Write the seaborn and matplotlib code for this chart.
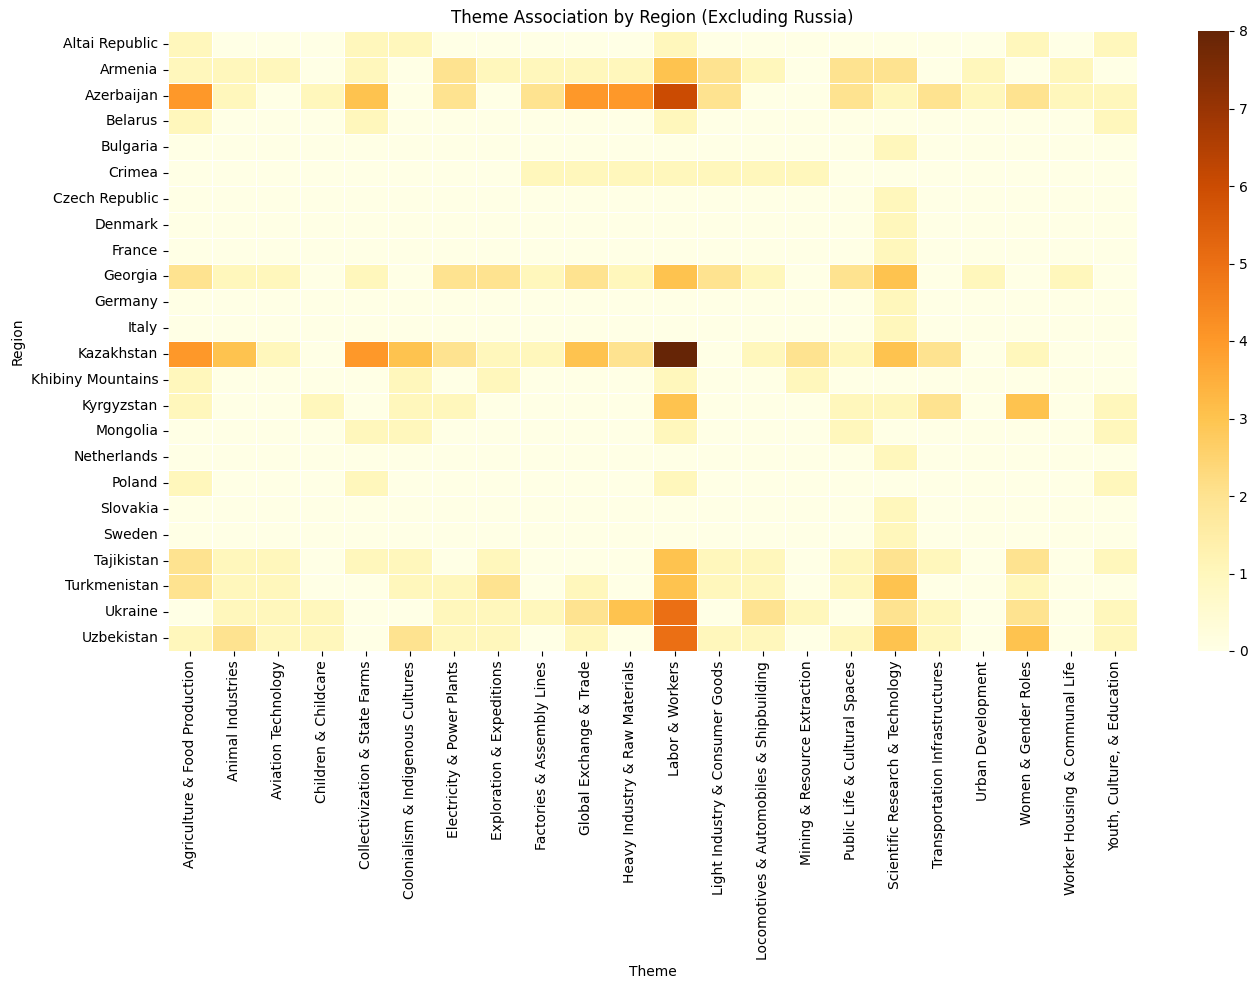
import numpy as np
import pandas as pd
import seaborn as sns
import matplotlib.pyplot as plt

regions = ['Altai Republic', 'Armenia', 'Azerbaijan', 'Belarus', 'Bulgaria', 'Crimea',
           'Czech Republic', 'Denmark', 'France', 'Georgia', 'Germany', 'Italy',
           'Kazakhstan', 'Khibiny Mountains', 'Kyrgyzstan', 'Mongolia', 'Netherlands',
           'Poland', 'Slovakia', 'Sweden', 'Tajikistan', 'Turkmenistan', 'Ukraine',
           'Uzbekistan']

themes = ['Agriculture & Food Production', 'Animal Industries', 'Aviation Technology',
          'Children & Childcare', 'Collectivization & State Farms',
          'Colonialism & Indigenous Cultures', 'Electricity & Power Plants',
          'Exploration & Expeditions', 'Factories & Assembly Lines',
          'Global Exchange & Trade', 'Heavy Industry & Raw Materials', 'Labor & Workers',
          'Light Industry & Consumer Goods', 'Locomotives & Automobiles & Shipbuilding',
          'Mining & Resource Extraction', 'Public Life & Cultural Spaces',
          'Scientific Research & Technology', 'Transportation Infrastructures',
          'Urban Development', 'Women & Gender Roles', 'Worker Housing & Communal Life',
          'Youth, Culture, & Education']

# one row per region, one value per theme
counts = [
    [1, 0, 0, 0, 1, 1, 0, 0, 0, 0, 0, 1, 0, 0, 0, 0, 0, 0, 0, 1, 0, 1],  # Altai Republic
    [1, 1, 1, 0, 1, 0, 2, 1, 1, 1, 1, 3, 2, 1, 0, 2, 2, 0, 1, 0, 1, 0],  # Armenia
    [4, 1, 0, 1, 3, 0, 2, 0, 2, 4, 4, 6, 2, 0, 0, 2, 1, 2, 1, 2, 1, 1],  # Azerbaijan
    [1, 0, 0, 0, 1, 0, 0, 0, 0, 0, 0, 1, 0, 0, 0, 0, 0, 0, 0, 0, 0, 1],  # Belarus
    [0, 0, 0, 0, 0, 0, 0, 0, 0, 0, 0, 0, 0, 0, 0, 0, 1, 0, 0, 0, 0, 0],  # Bulgaria
    [0, 0, 0, 0, 0, 0, 0, 0, 1, 1, 1, 1, 1, 1, 1, 0, 0, 0, 0, 0, 0, 0],  # Crimea
    [0, 0, 0, 0, 0, 0, 0, 0, 0, 0, 0, 0, 0, 0, 0, 0, 1, 0, 0, 0, 0, 0],  # Czech Republic
    [0, 0, 0, 0, 0, 0, 0, 0, 0, 0, 0, 0, 0, 0, 0, 0, 1, 0, 0, 0, 0, 0],  # Denmark
    [0, 0, 0, 0, 0, 0, 0, 0, 0, 0, 0, 0, 0, 0, 0, 0, 1, 0, 0, 0, 0, 0],  # France
    [2, 1, 1, 0, 1, 0, 2, 2, 1, 2, 1, 3, 2, 1, 0, 2, 3, 0, 1, 0, 1, 0],  # Georgia
    [0, 0, 0, 0, 0, 0, 0, 0, 0, 0, 0, 0, 0, 0, 0, 0, 1, 0, 0, 0, 0, 0],  # Germany
    [0, 0, 0, 0, 0, 0, 0, 0, 0, 0, 0, 0, 0, 0, 0, 0, 1, 0, 0, 0, 0, 0],  # Italy
    [4, 3, 1, 0, 4, 3, 2, 1, 1, 3, 2, 8, 0, 1, 2, 1, 3, 2, 0, 1, 0, 0],  # Kazakhstan
    [1, 0, 0, 0, 0, 1, 0, 1, 0, 0, 0, 1, 0, 0, 1, 0, 0, 0, 0, 0, 0, 0],  # Khibiny Mountains
    [1, 0, 0, 1, 0, 1, 1, 0, 0, 0, 0, 3, 0, 0, 0, 1, 1, 2, 0, 3, 0, 1],  # Kyrgyzstan
    [0, 0, 0, 0, 1, 1, 0, 0, 0, 0, 0, 1, 0, 0, 0, 1, 0, 0, 0, 0, 0, 1],  # Mongolia
    [0, 0, 0, 0, 0, 0, 0, 0, 0, 0, 0, 0, 0, 0, 0, 0, 1, 0, 0, 0, 0, 0],  # Netherlands
    [1, 0, 0, 0, 1, 0, 0, 0, 0, 0, 0, 1, 0, 0, 0, 0, 0, 0, 0, 0, 0, 1],  # Poland
    [0, 0, 0, 0, 0, 0, 0, 0, 0, 0, 0, 0, 0, 0, 0, 0, 1, 0, 0, 0, 0, 0],  # Slovakia
    [0, 0, 0, 0, 0, 0, 0, 0, 0, 0, 0, 0, 0, 0, 0, 0, 1, 0, 0, 0, 0, 0],  # Sweden
    [2, 1, 1, 0, 1, 1, 0, 1, 0, 0, 0, 3, 1, 1, 0, 1, 2, 1, 0, 2, 0, 1],  # Tajikistan
    [2, 1, 1, 0, 0, 1, 1, 2, 0, 1, 0, 3, 1, 1, 0, 1, 3, 0, 0, 1, 0, 0],  # Turkmenistan
    [0, 1, 1, 1, 0, 0, 1, 1, 1, 2, 3, 5, 0, 2, 1, 0, 2, 1, 0, 2, 0, 1],  # Ukraine
    [1, 2, 1, 1, 0, 2, 1, 1, 0, 1, 0, 5, 1, 1, 0, 1, 3, 1, 0, 3, 0, 1],  # Uzbekistan
]

df = pd.DataFrame(counts, index=regions, columns=themes)
df.index.name = 'Region'
df.columns.name = 'Theme'

W, H = 1257, 989
fig = plt.figure(figsize=(W / 100, H / 100), dpi=100)
# place heatmap and colorbar where they sit in the reference
ax = fig.add_axes([168 / W, 1 - 651 / H, (1137 - 168) / W, (651 - 31) / H])
cax = fig.add_axes([1198 / W, 1 - 651 / H, 31 / W, (651 - 31) / H])
sns.heatmap(df, cmap='YlOrBr', linewidths=0.5, ax=ax, cbar_ax=cax)
cax.set_frame_on(False)
ax.set_title('Theme Association by Region (Excluding Russia)')
ax.set_xlabel('Theme')
ax.set_ylabel('Region')
fig.savefig('out.png', dpi=100)
